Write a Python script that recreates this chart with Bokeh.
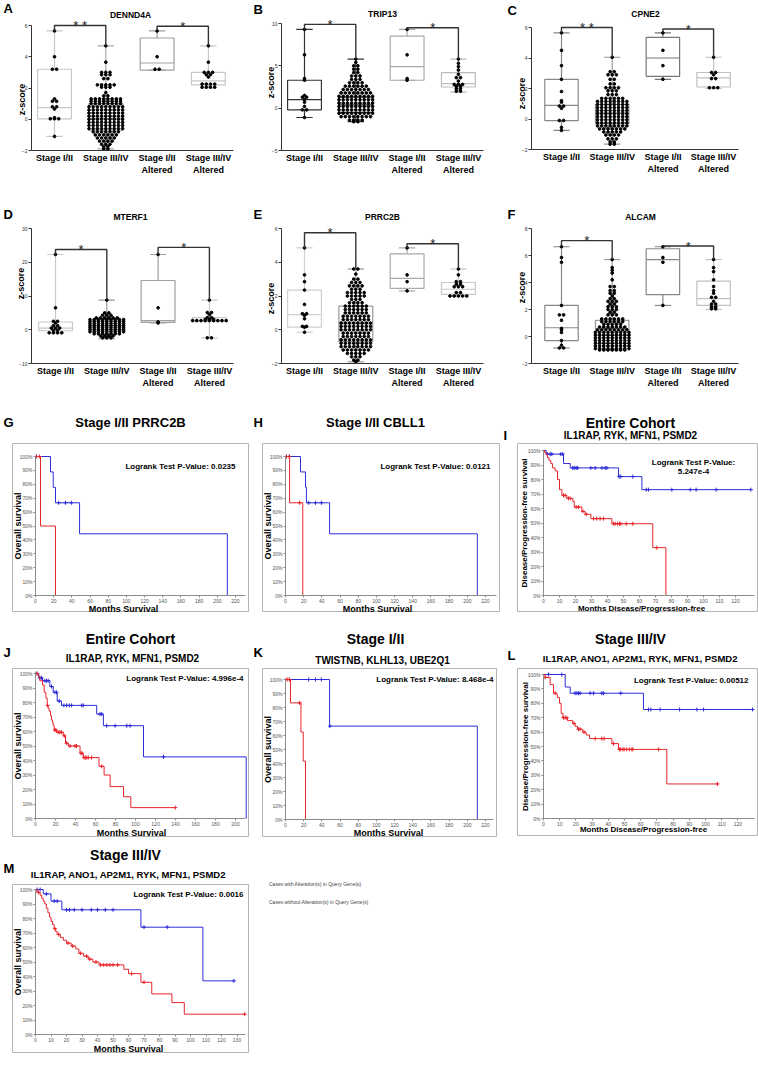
import math
import numpy as np
from bokeh.plotting import figure
from bokeh.models import (Range1d, FixedTicker, Label, Legend, LegendItem,
                          NumeralTickFormatter, BoxAnnotation)
from bokeh.layouts import row, column
from bokeh.embed import file_html
from bokeh.resources import INLINE
from bokeh.core.properties import value

FONT = "Liberation Sans"
RED = "#e8262b"
BLUE = "#2d2dd8"

CATEGORIES = ["Stage I/II", "Stage III/IV", "Stage I/II\nAltered", "Stage III/IV\nAltered"]

# ---------------- box / swarm data (levels = z-score rows, counts = dots per row) -------------
A_levels = [[5.65, 4.0, 3.2, 1.3, 1.15, 0.8, 0.65, 0.1, 0.03, -1.1],
            [4.7, 3.65, 3.0, 2.85, 2.6, 2.2, 2.05, 1.7, 1.5, 1.3, 1.15, 1.0, 0.8, 0.6, 0.4, 0.2,
             0.0, -0.2, -0.4, -0.6, -0.8, -1.0, -1.2, -1.4, -1.6, -1.75, -1.9],
            [5.65, 4.0, 3.2],
            [4.7, 3.65, 3.0, 2.85, 2.7, 2.25, 2.05]]
A_counts = [[1, 1, 2, 1, 2, 2, 1, 1, 3, 1],
            [1, 1, 3, 3, 2, 5, 3, 1, 2, 8, 8, 8, 9, 9, 9, 9, 9, 9, 9, 9, 7, 6, 5, 4, 3, 2, 2],
            [1, 1, 2],
            [1, 1, 3, 2, 1, 4, 4]]
A_boxes = [(0.03, 0.75, 3.2, -1.1, 5.65), (-0.7, 0.05, 1.0, -1.9, 4.7),
           (3.15, 3.6, 5.2, 3.15, 5.65), (2.2, 2.45, 3.0, 2.0, 4.7)]
A_brackets = [(1, 2, 6.0, "* *"), (3, 4, 5.95, "*")]

B_levels = [[9.3, 6.3, 3.5, 3.3, 1.5, 1.3, 1.0, 0.7, 0.2, -0.2, -1.1],
            [5.8, 5.4, 5.0, 4.6, 4.2, 3.8, 3.4, 3.0, 2.6, 2.2, 1.8, 1.4, 1.0, 0.6, 0.2, -0.2,
             -0.6, -1.0, -1.4, -1.6],
            [9.3, 6.3, 3.5, 3.3],
            [5.8, 5.3, 4.9, 4.5, 4.0, 3.6, 3.2, 2.8, 2.6, 2.3, 2.0]]
B_counts = [[1, 1, 1, 1, 1, 2, 1, 1, 1, 2, 1],
            [1, 1, 2, 2, 2, 3, 3, 4, 6, 7, 8, 9, 9, 9, 9, 9, 9, 8, 4, 2],
            [1, 1, 1, 1],
            [1, 1, 1, 1, 1, 2, 1, 3, 2, 2, 2]]
B_boxes = [(-0.2, 1.0, 3.3, -1.1, 9.3), (-0.5, 0.4, 1.3, -1.6, 5.8),
           (3.3, 4.9, 8.5, 3.3, 9.3), (2.5, 2.9, 4.2, 1.9, 5.8)]
B_brackets = [(1, 2, 9.9, "*"), (3, 4, 9.5, "*")]

C_levels = [[5.65, 4.5, 3.5, 2.6, 1.8, 1.2, 1.1, 0.85, 0.7, -0.1, -0.55, -0.75],
            [4.05, 3.1, 2.9, 2.6, 2.3, 2.05, 1.85, 1.6, 1.35, 1.15, 0.95, 0.75, 0.55, 0.35, 0.15,
             -0.05, -0.25, -0.45, -0.65, -0.85, -1.05, -1.3, -1.5, -1.65],
            [5.65, 4.5, 3.5, 2.6],
            [4.05, 3.05, 2.9, 2.65, 2.05]]
C_counts = [[1, 1, 1, 1, 1, 1, 1, 2, 1, 2, 1, 1],
            [1, 2, 3, 2, 2, 4, 3, 3, 6, 8, 8, 8, 8, 8, 8, 8, 8, 8, 7, 5, 4, 3, 2, 2],
            [1, 1, 1, 1],
            [1, 2, 1, 2, 3]]
C_boxes = [(-0.1, 0.9, 2.6, -0.75, 5.65), (-0.3, 0.4, 0.95, -1.65, 4.05),
           (2.8, 4.0, 5.35, 2.6, 5.65), (2.1, 2.7, 3.05, 2.0, 4.05)]
C_brackets = [(1, 2, 6.0, "* *"), (3, 4, 5.9, "*")]

D_levels = [[22.3, 6.5, 2.5, 2.0, 1.2, 0.5, -0.2, -0.9],
            [8.8, 5.0, 4.3, 3.5, 3.0, 2.4, 1.8, 1.2, 0.6, 0.0, -0.6, -1.2, -1.8, -2.4],
            [22.3, 6.5, 2.3, 2.0],
            [8.8, 5.1, 4.5, 3.6, 3.1, 2.7, -2.4]]
D_counts = [[1, 1, 2, 1, 2, 3, 2, 4],
            [1, 2, 3, 6, 9, 9, 9, 9, 9, 9, 9, 7, 4, 3],
            [1, 1, 1, 1],
            [1, 2, 1, 2, 3, 9, 2]]
D_boxes = [(-0.3, 0.5, 2.3, -1.0, 22.3), (0.0, 1.2, 2.6, -2.6, 8.8),
           (2.2, 2.7, 14.6, 2.0, 22.3), (2.5, 2.8, 3.6, -2.4, 8.8)]
D_brackets = [(1, 2, 23.8, "*"), (3, 4, 24.4, "*")]

E_levels = [[4.85, 3.25, 2.85, 2.35, 1.5, 0.95, 0.85, 0.65, 0.2, 0.15, -0.15],
            [3.6, 3.3, 3.0, 2.8, 2.6, 2.4, 2.2, 2.0, 1.8, 1.6, 1.4, 1.2, 1.0, 0.8, 0.6, 0.4, 0.2,
             0.0, -0.2, -0.4, -0.6, -0.8, -1.0, -1.2, -1.4, -1.6, -1.8, -1.9],
            [4.85, 3.25, 2.85, 2.3],
            [3.6, 3.25, 2.85, 2.7, 2.55, 2.2, 2.0]]
E_counts = [[1, 1, 1, 1, 1, 2, 1, 1, 2, 1, 1],
            [2, 1, 2, 3, 4, 3, 5, 5, 3, 4, 6, 6, 6, 7, 7, 8, 8, 8, 7, 7, 8, 8, 8, 7, 5, 3, 2, 1],
            [1, 1, 1, 1],
            [1, 1, 2, 2, 3, 2, 5]]
E_boxes = [(0.15, 0.9, 2.35, -0.15, 4.85), (-0.7, 0.35, 1.4, -1.9, 3.6),
           (2.45, 3.05, 4.5, 2.3, 4.85), (2.1, 2.4, 2.8, 2.0, 3.6)]
E_brackets = [(1, 2, 5.75, "*"), (3, 4, 5.1, "*")]

F_levels = [[6.65, 5.85, 5.5, 2.3, 1.6, 1.2, 0.6, 0.5, 0.3, -0.3, -0.65, -0.85],
            [5.7, 5.1, 4.9, 4.7, 4.2, 3.7, 3.4, 3.2, 3.0, 2.8, 2.6, 2.4, 2.2, 2.0, 1.8, 1.6, 1.3,
             1.1, 0.9, 0.7, 0.5, 0.3, 0.1, -0.1, -0.3, -0.5, -0.7, -0.9, -1.0],
            [6.65, 5.85, 5.5, 2.3],
            [5.7, 5.1, 4.8, 4.2, 3.7, 3.4, 3.2, 2.9, 2.6, 2.4, 2.2, 2.05]]
F_counts = [[1, 1, 1, 1, 2, 1, 1, 1, 1, 1, 1, 2],
            [1, 1, 1, 1, 1, 2, 2, 2, 1, 2, 3, 2, 3, 3, 2, 3, 6, 6, 5, 7, 8, 9, 9, 9, 9, 9,
             9, 9, 7],
            [1, 1, 1, 1],
            [1, 1, 1, 1, 1, 1, 1, 2, 1, 2, 2, 2]]
F_boxes = [(-0.3, 0.65, 2.3, -0.85, 6.65), (-0.5, 0.1, 1.2, -1.0, 5.7),
           (3.1, 5.7, 6.5, 2.3, 6.65), (2.3, 2.8, 4.1, 2.0, 5.7)]
F_brackets = [(1, 2, 7.1, "*"), (3, 4, 6.7, "*")]

# ---------------- Kaplan-Meier data (t = step times, s = survival, c = censor times) ---------
G_alt_t = [0, 5.5, 22];  G_alt_s = [1.0, 0.5, 0.0];  G_alt_c = [1.0, 4.5]
G_un_t = [0, 16.5, 19.5, 22, 48.5, 211];  G_un_s = [1.0, 0.889, 0.778, 0.667, 0.444, 0.0]
G_un_c = [1.0, 25.5, 33, 39.5]

H_alt_t = [0, 4.5, 19];  H_alt_s = [1.0, 0.667, 0.0];  H_alt_c = [1.0, 4.0, 15.5]
H_un_t = [0, 16.5, 22, 23, 48.5, 211];  H_un_s = [1.0, 0.889, 0.778, 0.667, 0.444, 0.0]
H_un_c = [1.0, 4.5, 25.5, 33, 39.5]

I_alt_t = [0, 0.6, 1.7, 2.5, 3.5, 4.6, 5.6, 7.3, 8.75, 10, 11.5, 14.6, 18.3, 19.2, 24, 26,
           29.6, 42.7, 68.3, 76.5]
I_alt_s = [1.0, 0.986, 0.97, 0.95, 0.93, 0.91, 0.88, 0.86, 0.80, 0.73, 0.69, 0.67, 0.65, 0.61,
           0.58, 0.56, 0.53, 0.495, 0.33, 0.0]
I_alt_c = [12.5, 13.5, 15.6, 16.7, 20.4, 21.9, 24.6, 26.7, 31.3, 33.3, 35.4, 37.5, 43.8, 44.8,
           46.3, 47.5, 48.3, 51.7, 55.8, 70.8]
I_un_t = [0, 1.7, 12.5, 16.7, 46.9, 61.5]
I_un_s = [1.0, 0.975, 0.91, 0.88, 0.82, 0.73]
I_un_c = [2.5, 4.2, 5.2, 10.8, 12, 18.3, 19.2, 20.4, 21.3, 29.6, 32.3, 36.5, 38.5, 39.6, 47.3,
          48.3, 55.8, 64.2, 65.6, 80.2, 91.7, 95.4, 107.9, 129.6]

J_alt_t = [0, 2.7, 4.3, 7, 8.7, 10.4, 11.7, 12.7, 13.7, 15, 16, 17, 17.7, 18.7, 21, 27.8, 30,
           32.8, 44.5, 47.8, 63.5, 68.6, 74.6, 88, 95.3]
J_alt_s = [1.0, 0.98, 0.95, 0.92, 0.87, 0.83, 0.78, 0.76, 0.74, 0.71, 0.68, 0.66, 0.64, 0.61,
           0.595, 0.57, 0.52, 0.50, 0.45, 0.42, 0.36, 0.30, 0.22, 0.15, 0.075]
J_alt_c = [1.7, 12, 19.4, 20.4, 22.7, 24.4, 26, 28.8, 31.1, 34.4, 39.5, 41, 45.5, 46.5, 48.5,
           49.8, 51.2, 52.8, 56, 66.2, 139.8]
J_un_t = [0, 3.3, 7, 14.4, 17.7, 21.7, 26, 61.2, 67.9, 108, 210.7]
J_un_s = [1.0, 0.97, 0.95, 0.91, 0.87, 0.81, 0.78, 0.72, 0.64, 0.425, 0.0]
J_un_c = [0.5, 4.3, 6, 9.4, 11, 12.7, 16, 19.4, 21, 23.7, 28.4, 31.1, 33.8, 36.1, 46.2, 47.8,
          64.5, 66.2, 71.2, 79.6, 91.3, 94.6, 128]

K_alt_t = [0, 5.5, 17, 19.5, 22];  K_alt_s = [1.0, 0.833, 0.625, 0.417, 0.0]
K_alt_c = [0.5, 2.5, 4.5, 15.5]
K_un_t = [0, 48.5, 211];  K_un_s = [1.0, 0.667, 0.0];  K_un_c = [25.5, 33, 39.5, 48.8]

L_alt_t = [0, 1, 4.1, 6.2, 8.2, 8.6, 9.9, 10.9, 12, 14.8, 18, 19.5, 21, 24.3, 26.3, 28.4, 42.2,
           46.3, 76.1]
L_alt_s = [1.0, 0.98, 0.93, 0.87, 0.86, 0.84, 0.80, 0.73, 0.70, 0.68, 0.66, 0.64, 0.62, 0.60,
           0.58, 0.555, 0.52, 0.48, 0.24]
L_alt_c = [1.0, 7.2, 12.3, 13.4, 14.4, 18.8, 21.6, 22.6, 25, 31.9, 36, 37.4, 43.2, 46.9, 47.7,
           49, 49.8, 51.4, 53, 54.5, 55.1, 71, 107.4]
L_un_t = [0, 13.4, 16.5, 61.7];  L_un_s = [1.0, 0.913, 0.87, 0.757]
L_un_c = [3.1, 11.3, 19.5, 20.6, 21.6, 22.6, 28.8, 30.9, 36, 37, 47.7, 64.8, 66.3, 72, 84,
          94.7, 98.8, 129]

M_alt_t = [0, 1, 3, 4, 5, 6, 7, 8, 9, 10, 11, 12, 13, 14, 16, 18, 20, 23, 26, 28, 31, 34, 37,
           41, 57, 60, 68, 75, 88, 96]
M_alt_s = [1.0, 0.98, 0.96, 0.94, 0.92, 0.90, 0.87, 0.84, 0.81, 0.78, 0.76, 0.73, 0.71, 0.69,
           0.67, 0.65, 0.63, 0.61, 0.59, 0.56, 0.54, 0.52, 0.50, 0.48, 0.45, 0.42, 0.36, 0.28,
           0.22, 0.14]
M_alt_c = [2, 12.5, 15, 21, 24, 29, 33, 35, 39, 42, 44, 46, 48, 50, 53, 62, 70, 135]
M_un_t = [0, 5, 10, 17, 68, 108];  M_un_s = [1.0, 0.97, 0.92, 0.86, 0.74, 0.37]
M_un_c = [1, 3, 7, 12, 14, 20, 22, 25, 30, 36, 40, 45, 50, 70, 85, 128]


# ---------------- helpers ----------------
def swarm(center, levels, counts, dx):
    xs, ys = [], []
    for lv, n in zip(levels, counts):
        for k in range(n):
            xs.append(center + (k - (n - 1) / 2.0) * dx)
            ys.append(lv)
    return xs, ys


def add_label(p, H, fx, fy, text, size, align="center", style="bold", color="black", angle=0.0):
    p.add_layout(Label(x=fx, y=H - fy, x_units="screen", y_units="screen", text=text,
                       text_font=FONT, text_font_size=f"{size}px", text_font_style=style,
                       text_align=align, text_baseline="middle", text_color=color,
                       angle=angle))


def new_fig(W, H, xr, yr):
    p = figure(width=W, height=H, x_range=Range1d(*xr), y_range=Range1d(*yr),
               output_backend="svg", toolbar_location=None, min_border_left=0,
               min_border_right=0, min_border_top=0, min_border_bottom=0)
    p.grid.visible = False
    p.outline_line_color = None
    return p


def box_panel(letter, name, levels, counts, boxes, brackets, ylim, yticks, g, colors):
    ymin, ymax = ylim
    W, H, sp, c1 = g["W"], g["H"], g["sp"], g["c1"]
    ppu = (g["bot"] - g["top"]) / (ymax - ymin)
    yr = (ymin - (H - g["bot"]) / ppu, ymax + g["top"] / ppu)
    xr = (1 - c1 / sp, 1 + (W - c1) / sp)
    x_axis_left = 1 + (g["fl"] - c1) / sp
    x_axis_right = 1 + (g["fr"] - c1) / sp
    p = new_fig(W, H, xr, yr)
    hw, cw = 0.33, 0.16
    for i, (q1, med, q3, lo, hi) in enumerate(boxes):
        x = i + 1
        c = colors[i]
        p.quad(left=[x - hw], right=[x + hw], bottom=[q1], top=[q3], fill_color=None,
               line_color=c, line_width=1.2)
        p.segment(x0=[x - hw, x, x, x - cw, x - cw], y0=[med, q3, q1, hi, lo],
                  x1=[x + hw, x, x, x + cw, x + cw], y1=[med, hi, lo, hi, lo],
                  line_color=c, line_width=1.2)
    dx = 4.2 / sp
    for i in range(4):
        sx, sy = swarm(i + 1, levels[i], counts[i], dx)
        p.scatter(sx, sy, size=2.7, color="black")
    for (a, b, yb, txt) in brackets:
        ta, tb = boxes[a - 1][4], boxes[b - 1][4]
        p.line([a, a, b, b], [ta, yb, yb, tb], line_color="#333333", line_width=1.4)
        p.text(x=[(a + b) / 2.0], y=[yb], text=[txt], text_font=value(FONT),
               text_font_size="13px", text_align="center", text_baseline="middle",
               text_color="#222222")
    ya = p.yaxis[0]
    ya.fixed_location = x_axis_left
    ya.ticker = FixedTicker(ticks=yticks)
    ya.bounds = (ymin, ymax)
    ya.major_label_text_font = FONT
    ya.major_label_text_font_size = "5px"
    ya.major_label_text_color = "#333333"
    ya.major_label_standoff = 1
    ya.major_tick_out = 3
    ya.major_tick_in = 0
    ya.minor_tick_line_color = None
    ya.axis_line_color = "#333333"
    ya.major_tick_line_color = "#333333"
    xa = p.xaxis[0]
    xa.fixed_location = ymin
    xa.bounds = (x_axis_left, x_axis_right)
    xa.ticker = FixedTicker(ticks=[1, 2, 3, 4])
    xa.major_label_overrides = {i + 1: CATEGORIES[i] for i in range(4)}
    xa.major_label_text_font = FONT
    xa.major_label_text_font_size = "9px"
    xa.major_label_text_font_style = "bold"
    xa.major_label_text_color = "black"
    xa.major_label_standoff = 2
    xa.major_tick_out = 0
    xa.major_tick_in = 0
    xa.major_tick_line_color = None
    xa.minor_tick_line_color = None
    xa.axis_line_color = "#333333"
    add_label(p, H, g["zx"], g["zy"], "z-score", 9, angle=math.pi / 2)
    add_label(p, H, g["lx"], g["ly"], letter, 13, align="left")
    add_label(p, H, g["tx"], g["ty"], name, 8.5)
    return p


def km_xy(t, s, c):
    x, y = list(t), list(s)
    end = max(c) if len(c) else t[-1]
    if s[-1] > 0 and end > t[-1]:
        x.append(end)
        y.append(s[-1])
    return x, y


def surv_at(t, s, tc):
    idx = np.searchsorted(np.array(t), np.array(tc), side="right") - 1
    return np.array(s)[idx]


def km_panel(g, letter, titles, curves, pval, ylabel, xlabel, xticks):
    W, H, ax0, ppu = g["W"], g["H"], g["ax0"], g["ppu"]
    ppy = g["y0"] - g["y100"]
    xr = (-ax0 / ppu, (W - ax0) / ppu)
    yr = (-(H - g["y0"]) / ppy, 1 + g["y100"] / ppy)
    p = new_fig(W, H, xr, yr)
    p.add_layout(BoxAnnotation(left=(g["fl"] - ax0) / ppu, right=(g["fr"] - ax0) / ppu,
                               top=(g["y0"] - g["ft"]) / ppy, bottom=(g["y0"] - g["fb"]) / ppy,
                               fill_color=None, fill_alpha=0, line_color="#b4b4b4",
                               line_width=1, line_alpha=1))
    xa, ya = p.xaxis[0], p.yaxis[0]
    xa.fixed_location = 0
    ya.fixed_location = 0
    xa.ticker = FixedTicker(ticks=xticks)
    ya.ticker = FixedTicker(ticks=[k / 10 for k in range(11)])
    ya.formatter = NumeralTickFormatter(format="0%")
    xa.bounds = (0, (g["fr"] - 3 - ax0) / ppu)
    ya.bounds = (0, 1)
    for ax in (xa, ya):
        ax.axis_line_color = "#8c8c8c"
        ax.major_tick_line_color = "#8c8c8c"
        ax.minor_tick_line_color = None
        ax.major_tick_out = 2
        ax.major_tick_in = 0
        ax.major_label_text_font = FONT
        ax.major_label_text_font_size = "5px"
        ax.major_label_text_color = "#555555"
        ax.major_label_standoff = 1
    for (t, s, c, col) in curves:
        x, y = km_xy(t, s, c)
        p.step(x, y, mode="after", line_color=col, line_width=1)
        p.scatter(c, surv_at(t, s, c), marker="cross", size=4, line_color=col, line_width=1)
    ymid = (g["y100"] + g["y0"]) / 2.0
    add_label(p, H, g["ylx"], ymid, ylabel, g.get("yls", 9), angle=math.pi / 2)
    add_label(p, H, g["xlx"], g["xly"], xlabel, g.get("xls", 9))
    add_label(p, H, g["lx"], g["ly"], letter, 13, align="left")
    for (txt, fx, fy, size) in titles:
        add_label(p, H, fx, fy, txt, size)
    for (txt, fx, fy, align) in pval:
        add_label(p, H, fx, fy, txt, 8, align=align)
    return p


# ---------------- geometry (figure-relative pixels) ----------------
gA = dict(W=250, H=208, fl=31, fr=233, c1=54, sp=51.3, top=25, bot=150, lx=3, ly=8, tx=130, ty=14,
          zx=21, zy=99)
gB = dict(W=250, H=208, fl=31, fr=233, c1=54, sp=51.3, top=23, bot=150, lx=3, ly=9, tx=132, ty=13,
          zx=20, zy=82)
gC = dict(W=258, H=208, fl=31, fr=238, c1=61, sp=50.7, top=27, bot=149, lx=7, ly=10, tx=145, ty=13,
          zx=21, zy=93)
gD = dict(W=250, H=205, fl=31, fr=233, c1=55, sp=51.3, top=20, bot=155, lx=3, ly=6, tx=130, ty=8,
          zx=20, zy=75)
gE = dict(W=250, H=205, fl=31, fr=233, c1=54, sp=51.3, top=20, bot=155, lx=3, ly=6, tx=132, ty=8,
          zx=20, zy=90)
gF = dict(W=258, H=205, fl=31, fr=238, c1=61, sp=50.7, top=20, bot=155, lx=7, ly=6, tx=140, ty=8,
          zx=21, zy=79)

A = box_panel("A", "DENND4A", A_levels, A_counts, A_boxes, A_brackets, (-2, 6), [-2, 0, 2, 4, 6],
              gA, ["#c8c8c8", "#aaaaaa", "#a0a0a0", "#c8c8c8"])
B = box_panel("B", "TRIP13", B_levels, B_counts, B_boxes, B_brackets, (-5, 10), [-5, 0, 5, 10],
              gB, ["#333333", "#333333", "#aaaaaa", "#bbbbbb"])
C = box_panel("C", "CPNE2", C_levels, C_counts, C_boxes, C_brackets, (-2, 6), [-2, 0, 2, 4, 6],
              gC, ["#888888", "#999999", "#777777", "#c0c0c0"])
D = box_panel("D", "MTERF1", D_levels, D_counts, D_boxes, D_brackets, (-10, 30),
              [-10, 0, 10, 20, 30], gD, ["#c8c8c8", "#999999", "#a0a0a0", "#c8c8c8"])
E = box_panel("E", "PRRC2B", E_levels, E_counts, E_boxes, E_brackets, (-2, 6), [-2, 0, 2, 4, 6],
              gE, ["#d0d0d0", "#999999", "#aaaaaa", "#c8c8c8"])
F = box_panel("F", "ALCAM", F_levels, F_counts, F_boxes, F_brackets, (-2, 8),
              [-2, 0, 2, 4, 6, 8], gF, ["#888888", "#999999", "#888888", "#c0c0c0"])

OS = "Overall survival"
DFS = "Disease/Progression-free survival"
MS = "Months Survival"
MD = "Months Disease/Progression-free"
T220 = list(range(0, 221, 20))
T200 = list(range(0, 201, 20))
T120 = list(range(0, 121, 10))
T130 = list(range(0, 131, 10))

gG = dict(W=250, H=215, fl=12, fr=248, ft=30, fb=198, ax0=35, ppu=0.909, y100=43, y0=182,
          lx=3, ly=9, ylx=17, xlx=123, xly=195)
gH = dict(W=250, H=215, fl=12, fr=249, ft=30, fb=198, ax0=35, ppu=0.909, y100=43, y0=182,
          lx=3, ly=9, ylx=17, xlx=127, xly=195)
gI = dict(W=258, H=215, fl=17, fr=257, ft=30, fb=198, ax0=43, ppu=1.6, y100=37, y0=182,
          lx=3, ly=22, ylx=24, xlx=141, xly=195, xls=8, yls=8)
gJ = dict(W=250, H=216, fl=12, fr=248, ft=40, fb=208, ax0=35, ppu=1.0, y100=45, y0=190,
          lx=3, ly=24, ylx=17, xlx=131, xly=204)
gK = dict(W=250, H=216, fl=12, fr=246, ft=40, fb=208, ax0=35, ppu=0.909, y100=51, y0=191,
          lx=3, ly=24, ylx=17, xlx=138, xly=204)
gL = dict(W=258, H=216, fl=17, fr=257, ft=40, fb=207, ax0=43, ppu=1.62, y100=46, y0=190,
          lx=7, ly=27, ylx=25, xlx=143, xly=201, xls=8, yls=8)
gM = dict(W=250, H=221, fl=12, fr=248, ft=40, fb=208, ax0=35, ppu=1.55, y100=45, y0=190,
          lx=3, ly=24, ylx=17, xlx=128, xly=204)

G = km_panel(gG, "G", [("Stage I/II PRRC2B", 130, 9, 13)],
             [(G_un_t, G_un_s, G_un_c, BLUE), (G_alt_t, G_alt_s, G_alt_c, RED)],
             [("Logrank Test P-Value: 0.0235", 235, 53, "right")], OS, MS, T220)
H = km_panel(gH, "H", [("Stage I/II CBLL1", 125, 9, 13)],
             [(H_un_t, H_un_s, H_un_c, BLUE), (H_alt_t, H_alt_s, H_alt_c, RED)],
             [("Logrank Test P-Value: 0.0121", 240, 53, "right")], OS, MS, T220)
I = km_panel(gI, "I", [("Entire Cohort", 130, 9, 14), ("IL1RAP, RYK, MFN1, PSMD2", 130, 22, 10)],
             [(I_un_t, I_un_s, I_un_c, BLUE), (I_alt_t, I_alt_s, I_alt_c, RED)],
             [("Logrank Test P-Value:", 193, 49, "center"), ("5.247e-4", 193, 58, "center")],
             DFS, MD, T120)
J = km_panel(gJ, "J", [("Entire Cohort", 130, 10, 14), ("IL1RAP, RYK, MFN1, PSMD2", 132, 30, 10)],
             [(J_un_t, J_un_s, J_un_c, BLUE), (J_alt_t, J_alt_s, J_alt_c, RED)],
             [("Logrank Test P-Value: 4.996e-4", 243, 50, "right")], OS, MS, T200)
K = km_panel(gK, "K", [("Stage I/II", 125, 10, 14), ("TWISTNB, KLHL13, UBE2Q1", 132, 32, 10)],
             [(K_un_t, K_un_s, K_un_c, BLUE), (K_alt_t, K_alt_s, K_alt_c, RED)],
             [("Logrank Test P-Value: 8.468e-4", 243, 51, "right")], OS, MS, T220)
L = km_panel(gL, "L", [("Stage III/IV", 130, 10, 14),
                       ("IL1RAP, ANO1, AP2M1, RYK, MFN1, PSMD2", 140, 30, 9.5)],
             [(L_un_t, L_un_s, L_un_c, BLUE), (L_alt_t, L_alt_s, L_alt_c, RED)],
             [("Logrank Test P-Value: 0.00512", 248, 52, "right")], DFS, MD, T120)
M = km_panel(gM, "M", [("Stage III/IV", 125, 10, 14),
                       ("IL1RAP, ANO1, AP2M1, RYK, MFN1, PSMD2", 128, 30, 9.5)],
             [(M_un_t, M_un_s, M_un_c, BLUE), (M_alt_t, M_alt_s, M_alt_c, RED)],
             [("Logrank Test P-Value: 0.0016", 243, 50, "right")], OS, MS, T130)

# ---------------- legend beside panel M ----------------
LEGEND_LABELS = ["Cases with Alteration(s) in Query Gene(s)",
                 "Cases without Alteration(s) in Query Gene(s)"]
LG = new_fig(508, 221, (0, 1), (0, 1))
LG.xaxis.visible = False
LG.yaxis.visible = False
r_alt = LG.scatter(x=[], y=[], marker="square", size=5, fill_color=RED, line_color=RED)
r_un = LG.scatter(x=[], y=[], marker="square", size=5, fill_color=BLUE, line_color=BLUE)
leg = Legend(items=[LegendItem(label=LEGEND_LABELS[0], renderers=[r_alt]),
                    LegendItem(label=LEGEND_LABELS[1], renderers=[r_un])],
             location=(8, 221 - 36 - 26), margin=0, padding=0, spacing=10, glyph_width=6,
             glyph_height=6, label_standoff=5, label_text_font=FONT,
             label_text_font_size="5px", label_height=8, border_line_color=None,
             background_fill_alpha=0)
LG.add_layout(leg, "center")

layout = column(row(A, B, C), row(D, E, F), row(G, H, I), row(J, K, L), row(M, LG))
open("out.html", "w").write(file_html(layout, INLINE))
